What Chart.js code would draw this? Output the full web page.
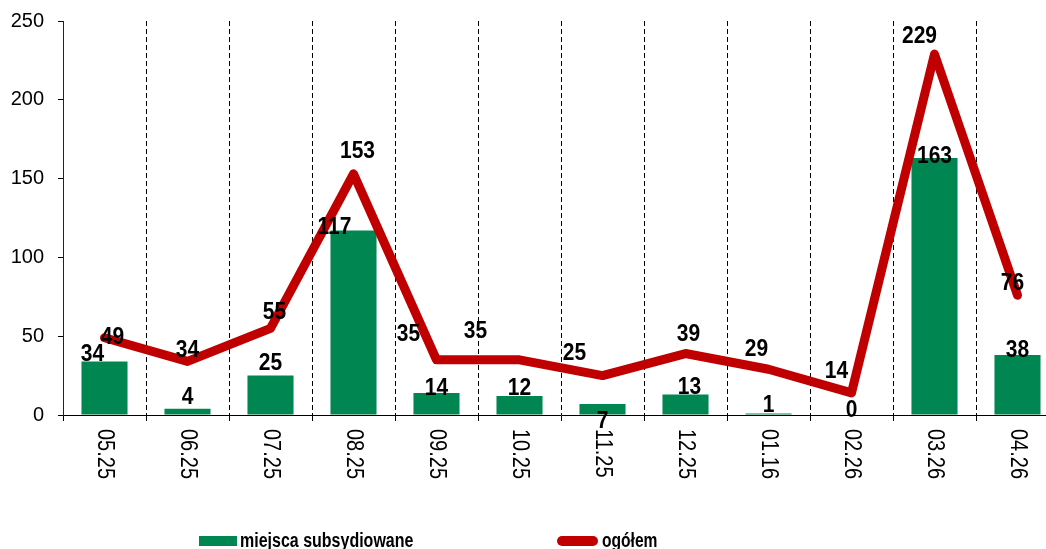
<!DOCTYPE html>
<html>
<head>
<meta charset="utf-8">
<script src="https://cdn.jsdelivr.net/npm/chart.js@4.4.1/dist/chart.umd.min.js"></script>
<style>
  html, body { margin: 0; padding: 0; background: #fff; overflow: hidden; }
  #wrap { width: 1046px; height: 549px; overflow: hidden; }
</style>
</head>
<body>
<div id="wrap"><canvas id="wykres" width="1059" height="549"></canvas></div>
<script>
  // Dane z wykresu
  const miesiace = ["05.25", "06.25", "07.25", "08.25", "09.25", "10.25", "11.25", "12.25", "01.16", "02.26", "03.26", "04.26"];
  const subsydiowane = [34, 4, 25, 117, 14, 12, 7, 13, 1, 0, 163, 38];
  const ogolem = [49, 34, 55, 153, 35, 35, 25, 39, 29, 14, 229, 76];
  const podzialkaY = [0, 50, 100, 150, 200, 250];

  const FONT = '"Liberation Sans", Arial, sans-serif';

  // Przesuniecia etykiet (jak w oryginale, ręcznie ustawione)
  const przesuniecieSlupki = [[-12, -7], [0, -11], [0, -12], [-19, -3], [0, -4], [0, -8], [0, 18], [4, -7], [0, -8], [0, -4], [0, -2], [0, -5]];
  const przesuniecieLinia = [[8, 0], [0, -11], [4, -16], [4, -22], [-28, -25], [-44, -28], [-28, -22], [3, -19], [-12, -20], [-15, -21], [-15, -18], [-5, -12]];

  const etykiety = {
    id: "etykiety",
    afterDatasetsDraw(chart) {
      const ctx = chart.ctx;
      const os = chart.scales.x;
      const bary = chart.getDatasetMeta(0).data;
      const punkty = chart.getDatasetMeta(1).data;

      function napis(t, px, py) {
        ctx.save();
        ctx.translate(px, py);
        ctx.scale(1, 1.12);
        ctx.fillText(t, 0, 0);
        ctx.restore();
      }

      ctx.save();
      ctx.fillStyle = "#000";
      ctx.textAlign = "center";
      ctx.textBaseline = "middle";
      ctx.font = "bold 21px " + FONT;
      bary.forEach(function(b, i) {
        const d = przesuniecieSlupki[i];
        napis(String(subsydiowane[i]), b.x + d[0], b.y + d[1]);
      });
      punkty.forEach(function(p, i) {
        const d = przesuniecieLinia[i];
        napis(String(ogolem[i]), p.x + d[0], p.y + d[1]);
      });

      // podpisy osi X obrócone w prawo
      ctx.font = "20px " + FONT;
      ctx.textAlign = "left";
      miesiace.forEach(function(m, i) {
        ctx.save();
        ctx.translate(os.getPixelForTick(i), os.top + 14);
        ctx.rotate(Math.PI / 2);
        ctx.scale(1, 1.2);
        ctx.fillText(m, 0, 0);
        ctx.restore();
      });
      ctx.restore();
    },
    afterDraw(chart) {
      const ctx = chart.ctx;
      const ds = chart.data.datasets;
      ctx.save();
      ctx.font = "bold 20px " + FONT;
      ctx.textBaseline = "alphabetic";
      ctx.fillStyle = ds[0].backgroundColor;
      ctx.fillRect(199, 536, 38, 10);
      ctx.fillStyle = "#000";
      ctx.save();
      ctx.translate(240, 547);
      ctx.scale(0.8, 1);
      ctx.fillText(ds[0].label, 0, 0);
      ctx.restore();

      ctx.strokeStyle = ds[1].borderColor;
      ctx.lineWidth = 10;
      ctx.lineCap = "round";
      ctx.beginPath();
      ctx.moveTo(562, 541);
      ctx.lineTo(593, 541);
      ctx.stroke();
      ctx.save();
      ctx.translate(602, 547);
      ctx.scale(0.78, 1);
      ctx.fillText(ds[1].label, 0, 0);
      ctx.restore();
      ctx.restore();
    }
  };

  new Chart(document.getElementById("wykres"), {
    type: "bar",
    data: {
      labels: miesiace,
      datasets: [
        {
          type: "bar",
          label: "miejsca subsydiowane",
          data: subsydiowane,
          backgroundColor: "#008651",
          barPercentage: 0.555,
          categoryPercentage: 1,
          order: 2
        },
        {
          type: "line",
          label: "ogółem",
          data: ogolem,
          borderColor: "#c00000",
          borderWidth: 9,
          borderCapStyle: "round",
          borderJoinStyle: "round",
          pointRadius: 0,
          tension: 0,
          fill: false,
          order: 1
        }
      ]
    },
    options: {
      responsive: false,
      animation: false,
      devicePixelRatio: 1,
      layout: { padding: { top: 21, left: 0, right: 0, bottom: 0 } },
      plugins: {
        legend: { display: false },
        tooltip: { enabled: false }
      },
      scales: {
        x: {
          offset: true,
          ticks: { display: false },
          grid: { offset: true, color: "#000", lineWidth: 1, tickLength: 6, tickColor: "#000" },
          border: { color: "#000", width: 1, dash: [5, 3] },
          afterFit: function(s) { s.height = 134; }
        },
        y: {
          min: 0,
          max: 250,
          afterBuildTicks: function(s) { s.ticks = podzialkaY.map(function(v) { return { value: v }; }); },
          ticks: { color: "#000", padding: 14, font: { size: 20, family: FONT } },
          grid: { drawOnChartArea: false, color: "#000", tickLength: 5 },
          border: { color: "#222", width: 1 },
          afterFit: function(s) { s.width = 63; s.paddingTop = 0; s.paddingBottom = 0; }
        }
      }
    },
    plugins: [etykiety]
  });
</script>
</body>
</html>
